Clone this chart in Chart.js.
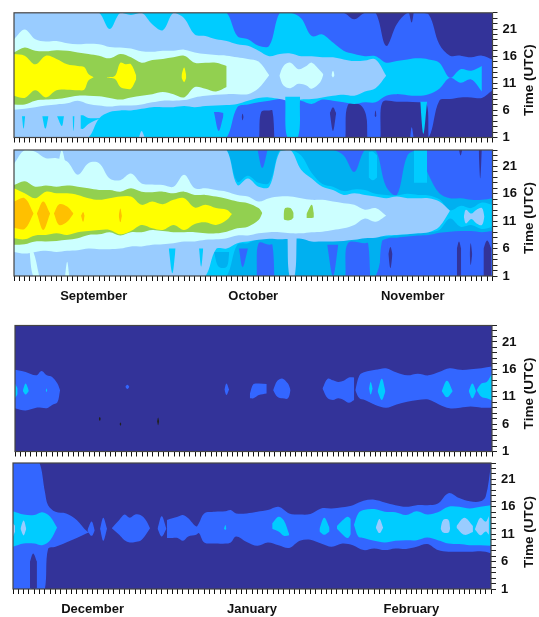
<!DOCTYPE html>
<html>
<head>
<meta charset="utf-8">
<title>Time (UTC) contours</title>
<script src="https://cdn.jsdelivr.net/npm/chart.js@4"></script>
<style>
  html, body { margin: 0; padding: 0; background: #fff; }
  #wrap { position: relative; width: 539px; height: 617px; overflow: hidden; }
  canvas { position: absolute; left: 0; top: 0; }
</style>
</head>
<body>
<div id="wrap">
  <canvas id="panel1" width="539" height="617"></canvas>
  <canvas id="panel2" width="539" height="617"></canvas>
  <canvas id="panel3" width="539" height="617"></canvas>
  <canvas id="panel4" width="539" height="617"></canvas>
</div>
<script>
// contour colours, lowest level to highest
const NAVY = '#333399', BLUE = '#3366FF', AZURE = '#00B0F0', CYAN = '#00CCFF',
      LIGHT = '#99CCFF', PALE = '#CCFFFF', GREEN = '#92D050', YELLOW = '#FFFF00',
      ORANGE = '#FFC000', SPOT = '#222222';

// day of the period (x axis), one column every 2 days
const days = [0,2,4,6,8,10,12,14,16,18,20,22,24,26,28,30,32,34,36,38,40,42,44,46,48,50,52,54,56,58,60,62,64,66,68,70,72,74,76,78,80,82,84,86,88,90];
const fullX = [0, 90], topLine = [24, 24], bottomLine = [1, 1];

const hourLabels = [1, 6, 11, 16, 21];
const monthsTop = { 15: 'September', 45: 'October', 75: 'November' };
const monthsBottom = { 15: 'December', 45: 'January', 75: 'February' };

// panel 1: upper and lower hour of each contour region
const p1BlueHi = [24,24,24,24,24,24,24,24,24,24,24,24,24,24,24,24,24,24,24,24,24,24,24,24,24,24,24,24,24,24,24,24,22.8,24,24,17.9,21.9,24,24,23.7,18.2,16.1,16.1,15.8,16.1,15.4];
const p1BlueLo = [1,1,1,1,1,1,1,1,1,1,1,1,1,1,1,1,1,1,1,1,1,1,1,1,1,1,1,1,1,1,1,1,1,1,1,1,1,1,1,1,7.8,8.1,8.4,8.4,8.3,9.7];
const p1CyanHi = [24,24,24,24,24,24,24,24,24,24,24,24,24,24,24,24,24,24,24,24,24,19.7,19.1,17.9,17.9,24,24,23,19.7,20,18.5,17,16.4,16,16,14.8,15.1,15.4,15.6,15.4,14.8,12,13.6,13.3,14.2];
const p1CyanLo = [1,1,1,1,1,1,1,1,1,1,1,1,1,1,1,1,1,1,1,1,1,6.6,7.1,7.5,7.8,8.1,8.1,7.8,7.2,8,7.8,7.5,7.2,7.5,7.5,8.7,9,8.8,8.7,9,10,12,11.1,11.7,9.5];
const p1LightHi = [24,24,24,24,24,24,24,24,24,21,24,23.6,24,21.9,20.8,24,23,20,19.7,19.1,18.8,18.2,17.9,17,16,16.4,16.5,16,16,15.8,15.8,15.4,15.1,15.2,15.4,12.4];
const p1LightLo = [1,1,1,1,1,1,1,1,4.5,5.7,6,6,6.3,6.6,6.6,6.6,6.8,6.6,6.8,6.9,7,7.2,7.8,8.3,8.4,8.1,7.7,8,8.1,8.4,8.7,8.9,8.7,9.5,10.1,12.4];
const p1PaleHi = [19.1,20.9,19.1,18.7,18.8,18.4,18.2,18.3,18.2,17.7,17.6,17.4,16.9,16.8,17,17,17.2,16.7,16.4,16.2,16.1,15.8,15.5,15,12.5];
const p1PaleLo = [6.1,6.3,6.6,6.9,7.1,7.3,7.8,7.2,6.9,6.7,6.9,6.9,7.1,7.5,7.8,7.8,7.9,8.4,8.7,8.9,9,9,9,10.1,12.5];
const p1GreenHi = [16.7,17.6,17,16.9,17.1,17,16.7,16.4,16.1,15.6,16.4,15.8,14.8,15.3,15.5,15.8,16.1,14.8,14.8,14.8,14.2];
const p1GreenLo = [7.1,7.1,7.8,8,8.1,8.4,8.7,8.7,8.6,8.3,8,8.4,8.7,9,9.4,9,8.4,10.3,10,9.5,10.3];
const p1YellowX = [0,2,4,6,8,10,12,13.2,14,15];
const p1YellowHi = [16.4,16.1,14.5,16.1,15.5,14.5,14.2,14,12.7,12.1];
const p1YellowLo = [8.7,8.3,9.7,8.4,9.7,9.8,9.7,9.8,11.5,12.1];
const p1Yellow2X = [17.5,19,20,21,22,23];
const p1Yellow2Hi = [12.1,12.4,14.8,14.5,14.5,12.4];
const p1Yellow2Lo = [12,11.8,10.3,10,10,11.8];
const p1PaleBlobX = [49.9,50.7,52,53.5,55,56,57.6,58.2];
const p1PaleBlobHi = [12.4,14.2,14.8,13.6,14.2,14.8,13.3,12.6];
const p1PaleBlobLo = [12.4,10.6,10.1,10.9,10.6,10,11.2,12.6];

// panel 2
const p2AzureHi = [24,24,24,24,24,24,24,24,24,24,24,24,24,24,24,24,24,24,24,24,24,24,24,24,24,24,24,24,24,24,24,23,20,24,24,17.3,15.8,23,24,19.4,16.1,15.2,15.2,14.9,14.9,15.2];
const p2AzureLo = [1,1,1,1,1,1,1,1,1,1,1,1,1,1,1,1,1,1,1,1,1,1,1,1,1,1,1,1,1,1,1,1,1,1,1,7.6,8,8.2,8.4,8.5,8.9,9.1,9.2,9.2,9,9.2];
const p2CyanHi = [24,24,24,24,24,24,24,24,24,24,24,24,24,24,24,24,24,24,24,24,24,18.2,19.3,18,18,24,24,23,19.8,17.8,17.3,16.5,16.8,16.7,16,15.8,15.7,16,15.8,15.7,15,13,13.8,13.4,14.4,14];
const p2CyanLo = [1,1,1,1,1,1,1,1,1,1,1,1,1,1,1,1,1,1,1,1,1,6.7,7,7.8,7.8,8,8,8,7.8,7.8,7.8,7.8,7.8,8,8.2,8.2,8.4,8.6,8.8,9,9.4,11.5,10,10.3,9.6,10];
const p2LightHi = [24,24,24,24,24,24,24,24,24,24,24,24,24,24,24,24,24,24,24,24,24,17.6,18.8,17.3,17.3,23.7,24,20.4,18.8,17.3,16.7,15.8,16.1,15.8,15.5,15.2,15.5,15.2,15.2,15.2,14.6,12.9];
const p2LightLo = [1,1,1,1,1,1,1,1,1,1,1,1,1,1,1,1,1,1,1,5.9,6,7,7.3,7.6,7.8,7.7,7.8,7.8,7.3,7.3,7.3,7.4,7.6,7.9,8,8.4,8.5,8.6,8.8,9,10,12.9];
const p2Light2X = [84.6,85,86,87,88,88.5];
const p2Light2Hi = [11.8,13.1,12.4,13.1,13.4,11.8];
const p2Light2Lo = [11.8,10.6,11.4,10.6,10.3,11.8];
const p2PaleHi = [21.5,24,23.7,22.5,22.5,21.9,19.5,21.6,21.6,18.8,18.5,19.7,17.9,17.7,17.6,17.3,19.5,17,17,16.7,16.4,15.8,15.5,14.6,15.2,15.5,15.5,15.2,14.9,14.9,14.6,14.3,14,13.1,13.4,12];
const p2PaleLo = [5.4,5.1,5.4,5.6,5.4,5.6,5.7,6,5.9,5.9,6,6.4,6.4,6.7,6.8,7,7.3,7.3,7.6,7.7,7.9,8.4,8.4,8.8,9,9,8.8,8.8,9,9.1,9.4,9.7,10.3,11.5,10.9,12];
const p2GreenX = [0,2,4,6,8,10,12,14,16,18,20,22,24,26,28,30,32,34,36,38,40,42,44,46,46.7];
const p2GreenHi = [17.6,18.3,17.3,17.5,17.3,17.5,17.3,17,16.7,16.7,16.4,17,16.4,16.3,16.4,16.1,16.4,15.8,15.8,15.5,15.1,14.6,14.3,13.4,12.5];
const p2GreenLo = [6.7,6.8,7.3,7.3,7.4,7.6,7.9,8.5,8.6,9,8.4,9,9,9.4,9.2,9,9,9,8.8,8.8,9.1,9.7,10,11.2,12.5];
const p2YellowX = [0,2,4,6,8,10,12,14,16,18,20,22,24,26,28,30,32,34,36,38,40,41];
const p2YellowHi = [17,16.1,15.2,16.4,16.1,16.1,15.8,15.2,14.9,15.2,15.5,15.5,14,14.6,14.1,14.9,15.2,13.5,14,13.4,13.1,12.3];
const p2YellowLo = [7.9,7.7,8.4,8.5,8.8,8.5,9,9.2,9.4,9.4,8.6,9.2,10.3,9.7,9.4,10.3,9.4,10.5,10.8,10.3,11.2,12.3];

// panel 3
const p3Blob1X = [0,2,4,5,6,7,8,8.5];
const p3Blob1Hi = [15.9,15.5,14.9,15.7,14.9,14.6,13.4,12.2];
const p3Blob1Lo = [8.9,8.5,9,9,8.9,9.5,10,12.2];
const p3Blob2X = [48.7,49.5,50.5,51.5,52];
const p3Blob2Hi = [12.2,13.9,14.3,13.4,12.2];
const p3Blob2Lo = [12.2,11,10.7,10.7,12.2];
const p3Blob3X = [58,59,60,61,62,63,64];
const p3Blob3Hi = [12.5,14.3,14,13.7,13.9,14.5,14.5];
const p3Blob3Lo = [12.5,10.7,10.4,10.7,10.4,9.9,10.4];
const p3BigX = [64.2,65,66,68,70,72,74,76,78,80,82,84,86,88,90];
const p3BigHi = [12.2,14.9,15.5,15.9,16.2,15.4,14.9,15.2,14.9,15.5,16.2,15.9,16,16.2,16.5];
const p3BigLo = [12.2,10.7,10.4,9.5,9,9.6,10.1,10.4,10.5,9.6,8.9,9,9.2,9,9];

// panel 4
const p4BlueX = [0,2,4,5,6,6.6,8,10,12,14,15];
const p4BlueHi = [24,24,24,24,18.8,16.3,15.1,14.8,13.6,11.5,11.7];
const p4BlueLo = [1,1,1,1,1,8.3,8.7,9.5,10.3,11.2,11.7];
const p4MidX = [18.6,20,21,22,23,24,25,25.8];
const p4MidHi = [12.1,13.6,14.6,14,14.6,14.5,13.6,12.1];
const p4MidLo = [12.1,10.9,9.9,9.5,9.6,9.8,10.9,12.1];
const p4BigX = [29,30,31,32,33,34.5,35,36,38,40,41,42,44,46,48,50,52,54,56,58,60,62,64,66,68,70,72,74,76,78,80,82,84,86,88,89,90];
const p4BigHi = [13.6,13.9,14.2,14.5,13.9,12.4,13,14.8,15.1,15.2,15.4,14.8,14.8,15.1,15.4,16,14.8,14.6,14.7,15.7,15.7,15.9,16.3,17.1,17.3,16.8,16.3,16,16.3,16.3,16.6,18.5,17.6,17,17,17.9,23.6];
const p4BigLo = [10.3,10.3,10.3,9.8,10.6,10.9,11.2,9.5,9.3,9.3,9.5,10.6,9.6,8.9,9.5,9,8.5,9.8,10,9.3,8.7,9.3,9,8.1,8.4,8.1,8.4,8.3,8.7,9.2,8.1,7.8,7.8,7.8,7.9,7.8,7.5];
const p4CyanX = [64.2,65,66,68,70,72,74,76,78,80,82,84,86,88,90];
const p4CyanHi = [12.7,14.8,15.4,15.6,15.1,15,14.5,15.2,14.6,15,16,16,15.7,16,16.3];
const p4CyanLo = [12.7,10.6,10.3,9.8,9.5,9.8,9.9,9.9,10.4,9.9,9.3,9.2,9,9,8.9];

// each layer is [colour, x, upper, lower], painted in this order
const panel1Layers = [
  [NAVY, fullX, topLine, bottomLine],
  [BLUE, days, p1BlueHi, p1BlueLo],
  [NAVY, [46.1,46.5,48,48.6,49], [1,5.7,6,6,1], [1,1,1,1,1]],
  [NAVY, [62.3,62.8,65,66.2,66.5], [1,7,7.1,5.2,1], [1,1,1,1,1]],
  [NAVY, [68.9,69.3,72,76,77.6,78], [1,7.5,7.6,7.5,7.3,1], [1,1,1,1,1,1]],
  [CYAN, days, p1CyanHi, p1CyanLo],
  [LIGHT, days, p1LightHi, p1LightLo],
  [PALE, days, p1PaleHi, p1PaleLo],
  [PALE, p1PaleBlobX, p1PaleBlobHi, p1PaleBlobLo],
  [PALE, [59.7,60,60.3], [12.5,13.3,12.5], [12.5,12.1,12.5]],
  [GREEN, days, p1GreenHi, p1GreenLo],
  [YELLOW, p1YellowX, p1YellowHi, p1YellowLo],
  [YELLOW, p1Yellow2X, p1Yellow2Hi, p1Yellow2Lo],
  [YELLOW, [31.5,32,32.4], [12.5,13.9,12.5], [12,11.2,12]],
  // small patches
  [CYAN, [1.5,1.8,2.1], [4.9,4.9,4.9], [4.9,2.6,4.9]],
  [CYAN, [5.3,5.9,6.5], [4.9,4.9,4.9], [4.9,2.6,4.9]],
  [CYAN, [8.1,9,9.4], [4.9,4.9,4.9], [4.9,3.1,4.9]],
  [CYAN, [11,11.2,11.4], [4.9,4.9,4.9], [4.9,2.2,4.9]],
  [CYAN, [12.5,13,14,16.3], [5.1,5.1,4.6,4.6], [2.6,2.6,3.5,4.6]],
  [CYAN, [51,51.4,53.4,53.8], [8.5,8.5,8.5,8.5], [8,1,1,8]],
  [CYAN, [76.4,77,77.7], [7.6,7.6,7.6], [7.6,1.7,7.6]],
  [LIGHT, [23.5,24,24.6], [1,2.2,1], [1,1,1]],
  [BLUE, [37.6,38.5,39.4], [5.7,5.7,5.5], [5.7,2.2,5]],
  [BLUE, [74.5,74.8,75.2], [1,2.9,1], [1,1,1]],
  [NAVY, [42.8,43,43.2], [4.8,5.4,4.8], [4.8,4.2,4.8]],
  [NAVY, [59.4,60,60.6], [5.5,6.6,5.5], [5.5,2.2,5.5]],
  [NAVY, [74.3,74.8,75.2], [24,24,24], [24,22.2,24]],
  [NAVY, [67.8,68,68.2], [5,6,5], [5,4.8,5]]
];

const panel2Layers = [
  [BLUE, fullX, topLine, bottomLine],
  [AZURE, days, p2AzureHi, p2AzureLo],
  [BLUE, [45.6,46,48,48.6,49], [1,7,6.7,6.7,1], [1,1,1,1,1]],
  [BLUE, [62.3,62.8,66,66.6,67], [1,7,7,7,1], [1,1,1,1,1]],
  [BLUE, [68.7,69.2,70.2], [1,7.3,7.9], [1,1,1]],
  [CYAN, days, p2CyanHi, p2CyanLo],
  [CYAN, [66.7,67.5,68.3], [23.7,23.7,23], [19,18.5,19]],
  [CYAN, [75.2,76,77.7], [24,24,24], [18,18,18]],
  [AZURE, [37.6,38.5,40,40.5], [5.4,5.4,5.4,5.4], [5.4,2.7,2.7,5.4]],
  [BLUE, [42.3,43,44], [6,6,6], [6,2.6,6]],
  [BLUE, [45.8,46.7,47.7], [24,24,24], [24,20.7,24]],
  [BLUE, [58.9,60,61], [6.7,6.7,6.7], [6.7,1,6.7]],
  [LIGHT, days, p2LightHi, p2LightLo],
  [LIGHT, p2Light2X, p2Light2Hi, p2Light2Lo],
  [LIGHT, [51.4,51.8,52.8,53.2], [8.5,8.5,8.5,8.5], [8.5,1,1,8.5]],
  [CYAN, [29.1,29.8,30.4], [6,6,6], [6,1.5,6]],
  [CYAN, [34.8,35.2,35.6], [6,6,6], [6,2.7,6]],
  [PALE, days, p2PaleHi, p2PaleLo],
  [PALE, [8.5,9,9.6], [22.5,24,22], [20,20,20]],
  [PALE, [2.9,3.6,4.7], [5.5,5.5,1.2], [5.5,1,1]],
  [PALE, [9.6,10,10.4], [1,3.6,1], [1,1,1]],
  [GREEN, p2GreenX, p2GreenHi, p2GreenLo],
  [GREEN, [50.7,51,52,52.6], [12.3,13.4,13.4,12.5], [11.5,11.2,11.2,11.7]],
  [GREEN, [55,56,56.4], [12.3,14,12.5], [11.6,11.6,11.7]],
  [YELLOW, p2YellowX, p2YellowHi, p2YellowLo],
  [ORANGE, [0,2,3.7], [14.6,15.2,12.4], [9.8,9.6,12.4]],
  [ORANGE, [4.3,5.5,6.8], [12.4,14.6,12.4], [12.4,9.4,12.4]],
  [ORANGE, [7.5,8.5,10,11.2], [12.4,14.1,13.7,12.4], [12.4,10.3,10.9,12.4]],
  [ORANGE, [12.6,13,13.3], [12,12.7,12], [12,10.9,12]],
  [ORANGE, [19.7,20,20.3], [12,13.3,12], [11.9,10.8,11.9]],
  [NAVY, [83.3,83.7,84.1], [6,7.3,6], [1,1,1]],
  [NAVY, [85.7,85.9,86.2], [5,7,5], [5,3,5]],
  [NAVY, [88.3,89,89.8], [6,7.5,6], [1,1,1]],
  [NAVY, [70.4,70.8,71.2], [5,6.3,5], [5,2.4,5]],
  [NAVY, [87.4,87.7,88], [24,24,24], [24,18.8,24]],
  [NAVY, [83.7,84,84.3], [24,24,24], [24,23,24]]
];

const panel3Layers = [
  [NAVY, fullX, topLine, bottomLine],
  [BLUE, p3Blob1X, p3Blob1Hi, p3Blob1Lo],
  [BLUE, [20.8,21.2,21.6], [12.8,13.2,12.8], [12.8,12.4,12.8]],
  [BLUE, [39.5,39.9,40.4], [12.3,13.4,12.3], [12.3,11.3,12.3]],
  [BLUE, [44.3,45,46,47.5], [11.5,13.3,13.4,13.3], [10.7,10.7,11.3,11.6]],
  [BLUE, p3Blob2X, p3Blob2Hi, p3Blob2Lo],
  [BLUE, p3Blob3X, p3Blob3Hi, p3Blob3Lo],
  [BLUE, p3BigX, p3BigHi, p3BigLo],
  [CYAN, [0,0.5], [13.4,12.5], [10.7,11.5]],
  [CYAN, [1.5,2,2.6], [12.2,13.4,12.2], [12,11.4,12]],
  [CYAN, [5.8,5.95,6.1], [12.1,12.5,12.1], [12.1,11.9,12.1]],
  [CYAN, [66.8,67.1,67.5], [12.5,13.7,12.5], [12.5,11.4,12.5]],
  [CYAN, [68.4,69.2,69.9], [12,14.3,12], [12,10.4,12]],
  [CYAN, [80.5,81.5,82.6], [12,13.9,12], [12,10.9,12]],
  [CYAN, [85.6,86.3,87], [12,13.4,12], [12,10.7,12]],
  [CYAN, [87.1,88,89,90], [12.2,13.4,13.7,15.2], [12.2,11,10.7,10.3]],
  [SPOT, [15.8,16,16.2], [7,7.3,7], [7,6.6,7]],
  [SPOT, [19.7,19.9,20.1], [6,6.3,6], [6,5.7,6]],
  [SPOT, [26.8,27,27.2], [6.5,7.2,6.5], [6.5,5.8,6.5]]
];

const panel4Layers = [
  [NAVY, fullX, topLine, bottomLine],
  [BLUE, p4BlueX, p4BlueHi, p4BlueLo],
  [NAVY, [3.2,3.8,4.5], [6,7.5,6], [1.2,1,1.2]],
  [BLUE, [14,14.8,15.4], [11.7,13.3,11.7], [11.7,10.7,11.7]],
  [BLUE, [16.4,17,17.7], [12,14,12], [12,9.8,12]],
  [BLUE, p4MidX, p4MidHi, p4MidLo],
  [BLUE, [27.2,28,28.9], [12,14.3,12], [12,10.6,12]],
  [BLUE, p4BigX, p4BigHi, p4BigLo],
  [CYAN, [0,2,4,5.5,7,8.3], [15.2,14.6,14.5,15,14.2,12.2], [8.7,9.3,9.3,9,9.9,12.2]],
  [CYAN, [39.7,40,40.2], [12,12.7,12], [12,11.8,12]],
  [CYAN, [48.8,50,51,52], [13,14.2,13.5,11], [12,11.5,10.7,10.8]],
  [CYAN, [57.7,58.6,59.6], [12,14,12.2], [11.5,10.9,11.5]],
  [CYAN, [61,62,63,63.6], [12.5,13.5,14.2,13.8], [12,11,10.3,11]],
  [CYAN, p4CyanX, p4CyanHi, p4CyanLo],
  [LIGHT, [0,0.4], [13,12.5], [10.6,11.5]],
  [LIGHT, [1.4,2,2.5], [12,13.5,12], [12,10.8,12]],
  [LIGHT, [68.3,69,69.7], [12.2,13.8,12.2], [12.2,11.2,12.2]],
  [LIGHT, [80.5,81,82,82.3], [12,13.6,13.6,12], [12,11.3,11.3,12]],
  [LIGHT, [83.5,85,86.6], [12.5,14,12.5], [12.2,10.9,11.4]],
  [LIGHT, [87,88,89,89.6], [12,14,13.3,14.3], [11.8,10.8,11.5,10.9]]
];

const TEXT = '#111';
const PAGE_W = 539, PAGE_H = 617;

// turn layers into hi/lo line pairs, last painted first because Chart.js draws index 0 on top
function buildDatasets(layers) {
    const out = [];
    layers.slice().reverse().forEach(layer => {
        const [color, xs, hi, lo] = layer;
        const line = vals => vals.map((v, i) => ({ x: xs[i], y: v }));
        out.push({ data: line(hi), fill: '+1', backgroundColor: color, borderWidth: 0, pointRadius: 0, tension: 0.35 });
        out.push({ data: line(lo), fill: false, borderWidth: 0, pointRadius: 0, tension: 0.35 });
    });
    return out;
}

// box round the plot and the y title, which reads bottom to top on the right side
const framePlugin = {
    id: 'frame',
    afterDraw(chart, args, opts) {
        const { ctx, chartArea: a } = chart;
        ctx.save();
        ctx.strokeStyle = '#444';
        ctx.lineWidth = 1.2;
        ctx.strokeRect(a.left, a.top, a.right - a.left, a.bottom - a.top);
        ctx.translate(opts.titleX, (a.top + a.bottom) / 2 + opts.titleShift);
        ctx.rotate(-Math.PI / 2);
        ctx.fillStyle = TEXT;
        ctx.font = 'bold 13.5px "Liberation Sans"';
        ctx.textAlign = 'center';
        ctx.textBaseline = 'middle';
        ctx.fillText('Time (UTC)', 0, 0);
        ctx.restore();
    }
};

function makePanel(id, layers, box, months, titleShift) {
    new Chart(document.getElementById(id), {
        type: 'line',
        data: { datasets: buildDatasets(layers) },
        plugins: [framePlugin],
        options: {
            responsive: false,
            animation: false,
            events: [],
            layout: { padding: { left: box.left, top: box.top, right: 0, bottom: 0 } },
            plugins: {
                legend: { display: false },
                tooltip: { enabled: false },
                frame: { titleX: 529, titleShift: titleShift }
            },
            scales: {
                x: {
                    type: 'linear',
                    min: 0,
                    max: 90,
                    afterFit: s => { s.height = PAGE_H - box.bottom; },
                    grid: { drawOnChartArea: false, tickLength: 5, tickColor: '#111', tickWidth: 1 },
                    border: { display: false },
                    ticks: {
                        stepSize: 1,
                        autoSkip: false,
                        maxRotation: 0,
                        padding: 8,
                        color: TEXT,
                        font: { family: 'Liberation Sans', size: 13, weight: 'bold' },
                        callback: v => (months && months[v]) ? months[v] : ''
                    }
                },
                y: {
                    position: 'right',
                    min: 1,
                    max: 24,
                    afterFit: s => { s.width = PAGE_W - box.right; },
                    grid: { drawOnChartArea: false, tickLength: 5, tickColor: '#222', tickWidth: 1 },
                    border: { display: false },
                    ticks: {
                        stepSize: 1,
                        autoSkip: false,
                        padding: 5,
                        color: TEXT,
                        font: { family: 'Liberation Sans', size: 13, weight: 'bold' },
                        callback: v => hourLabels.includes(v) ? String(v) : ''
                    }
                }
            }
        }
    });
}

makePanel('panel1', panel1Layers, { left: 14, top: 11, right: 492.5, bottom: 137.5 }, null, 5);
makePanel('panel2', panel2Layers, { left: 14, top: 150, right: 492.5, bottom: 276 }, monthsTop, 5);
makePanel('panel3', panel3Layers, { left: 15, top: 325.5, right: 492, bottom: 451.5 }, null, 5);
makePanel('panel4', panel4Layers, { left: 13, top: 463, right: 491, bottom: 589 }, monthsBottom, 6);
</script>
</body>
</html>
